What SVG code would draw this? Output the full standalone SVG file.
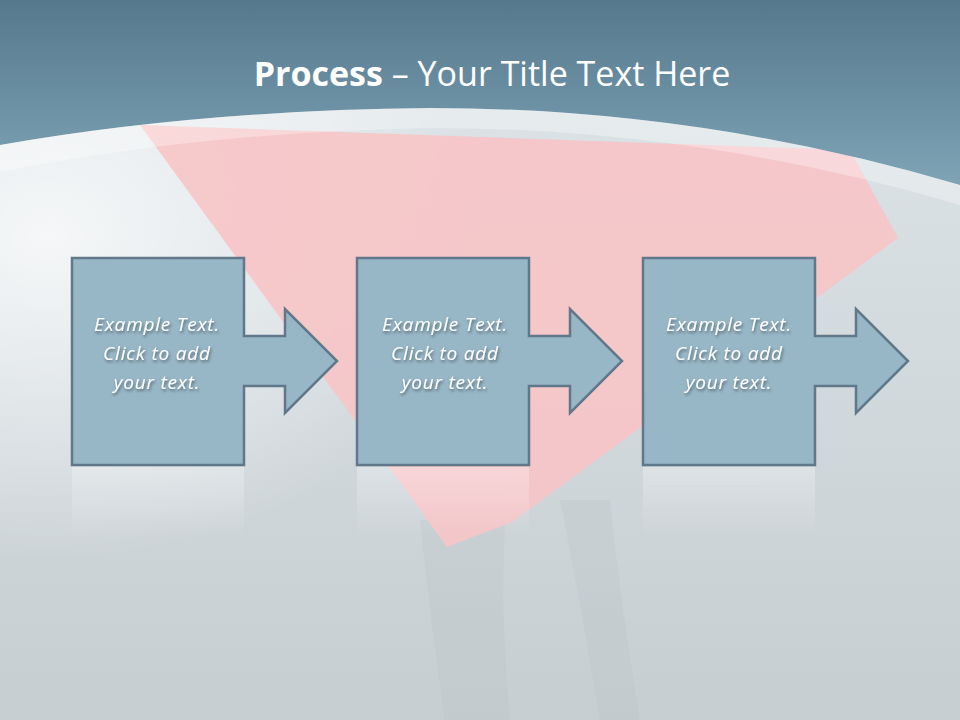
<svg xmlns="http://www.w3.org/2000/svg" width="960" height="720" viewBox="0 0 960 720">
<defs>
<linearGradient id="bg" x1="0" y1="0" x2="0" y2="1"><stop offset="0" stop-color="#dfe6ea"/><stop offset="1" stop-color="#c6ced2"/></linearGradient>
<radialGradient id="glow" cx="0.05" cy="0.33" r="0.45"><stop offset="0" stop-color="#ffffff" stop-opacity="0.75"/><stop offset="1" stop-color="#ffffff" stop-opacity="0"/></radialGradient>
<linearGradient id="hdr" x1="0" y1="0" x2="0" y2="1"><stop offset="0" stop-color="#56788c"/><stop offset="1" stop-color="#7ea4b6"/></linearGradient>
<linearGradient id="refl" x1="0" y1="0" x2="0" y2="1"><stop offset="0" stop-color="#ffffff" stop-opacity="0.35"/><stop offset="1" stop-color="#ffffff" stop-opacity="0"/></linearGradient>
<filter id="sh"><feDropShadow dx="1" dy="2" stdDeviation="1.5" flood-color="#000" flood-opacity="0.45"/></filter>
<style>
.node{fill:#97b6c6;stroke:#61788a;stroke-width:2.5}
.t{font-family:"Open Sans","Liberation Sans",sans-serif;font-style:italic;font-size:19px;letter-spacing:0.8px;fill:#fff;text-anchor:middle;filter:url(#sh)}
</style>
</defs>
<rect width="960" height="720" fill="url(#bg)"/>
<rect width="960" height="720" fill="url(#glow)"/>
<path d="M420 520 Q430 620 445 720 L510 720 Q500 620 505 520 Z M560 500 Q580 600 600 720 L640 720 Q620 600 610 500 Z" fill="#b8bfc2" opacity="0.25"/>
<polygon points="140,125 850,150 898,238 512,522 447,547" fill="#f7c4c6" opacity="0.9"/>
<path d="M0 0 H960 V185 Q700 108 430 108 Q200 110 0 145 Z" fill="url(#hdr)"/>
<path d="M0 145 Q200 110 430 108 Q700 108 960 185 V205 Q700 128 430 128 Q200 132 0 172 Z" fill="#ffffff" opacity="0.3"/>
<text x="492" y="86" font-family="'Open Sans','Liberation Sans',sans-serif" font-size="34" fill="#fff" text-anchor="middle"><tspan font-weight="bold">Process</tspan> – Your Title Text Here</text>
<g id="reflections" opacity="0.8">
<rect x="72" y="467" width="172" height="70" fill="url(#refl)"/>
<rect x="357" y="467" width="172" height="70" fill="url(#refl)"/>
<rect x="643" y="467" width="172" height="70" fill="url(#refl)"/>
</g>
<g id="connectors"></g>
<g id="node1"><path class="node" d="M72 258 H244 V336 H285 V309 L337 361 L285 413 V386 H244 V465 H72 Z"/>
<text class="t" x="157" y="331">Example Text.</text><text class="t" x="157" y="360">Click  to add</text><text class="t" x="157" y="389">your text.</text></g>
<g id="node2"><path class="node" d="M357 258 H529 V336 H570 V309 L622 361 L570 413 V386 H529 V465 H357 Z"/>
<text class="t" x="445" y="331">Example Text.</text><text class="t" x="445" y="360">Click  to add</text><text class="t" x="445" y="389">your text.</text></g>
<g id="node3"><path class="node" d="M643 258 H815 V336 H856 V309 L908 361 L856 413 V386 H815 V465 H643 Z"/>
<text class="t" x="729" y="331">Example Text.</text><text class="t" x="729" y="360">Click  to add</text><text class="t" x="729" y="389">your text.</text></g>
</svg>
